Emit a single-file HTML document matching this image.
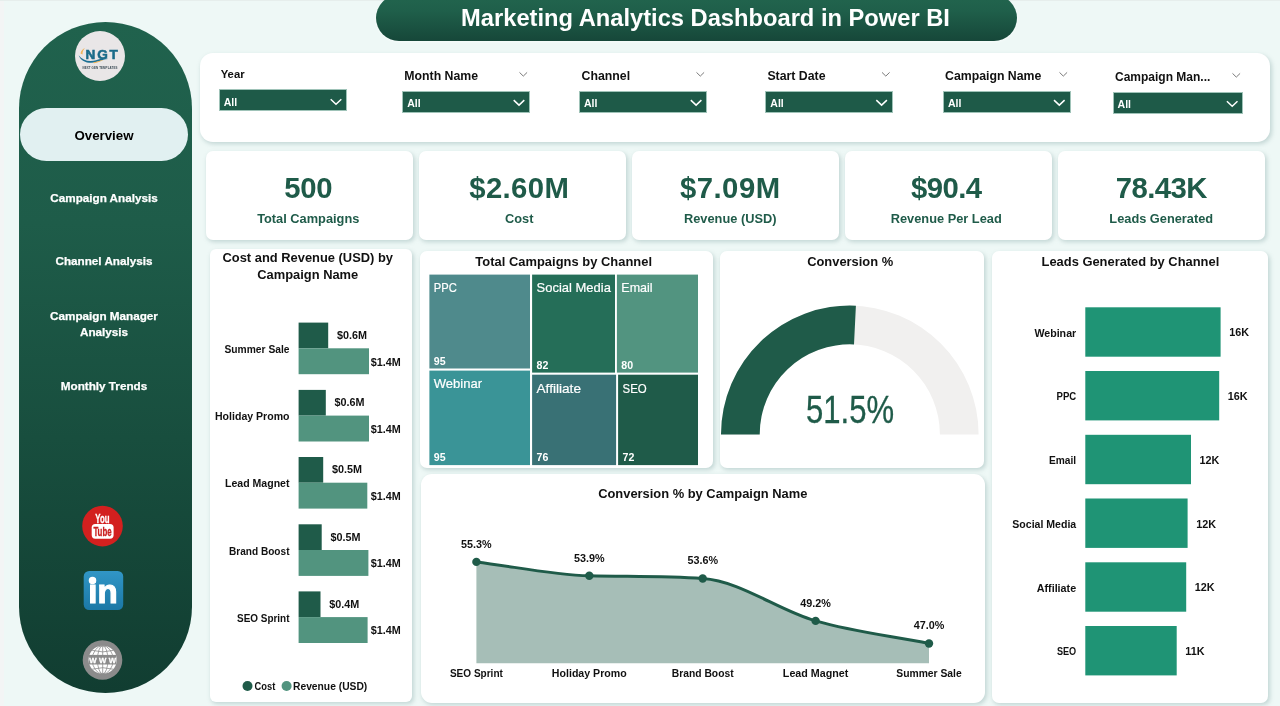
<!DOCTYPE html>
<html lang="en"><head><meta charset="utf-8"><title>Marketing Analytics Dashboard in Power BI</title>
<style>
*{box-sizing:border-box;margin:0;padding:0}
html,body{width:1280px;height:706px;overflow:hidden}
body{background:#eef8f6;font-family:"Liberation Sans",Arial,sans-serif;color:#111;position:relative}
.abs{position:absolute}
.card{position:absolute;background:#fff;border-radius:7px;box-shadow:1.5px 2px 4px rgba(120,155,155,.36)}
.edge{position:absolute;left:0;top:0;width:4px;height:706px;background:#f3f5f5}
.side{position:absolute;left:19px;top:22px;width:173px;height:671px;border-radius:86.5px;background:linear-gradient(180deg,#20624d 0%,#1e5c49 30%,#184e3e 62%,#113d31 100%)}
.title{position:absolute;left:376px;top:-5px;width:641px;height:46px;border-radius:23px;background:linear-gradient(180deg,#22654e 0%,#1f5f4a 35%,#164739 100%);box-shadow:0 1px 3px rgba(255,255,255,.6);color:#fff;font-weight:700;font-size:23.7px;text-align:center;line-height:47px;padding-left:18px;white-space:nowrap}
.pill{position:absolute;left:20px;top:108px;width:168px;height:53px;border-radius:26.5px;background:#e1f0f1;font-weight:700;font-size:13.3px;text-align:center;line-height:55.5px;color:#000}
.nav{position:absolute;left:18px;width:172px;text-align:center;color:#fff;font-weight:700;font-size:11.7px;line-height:15.5px;white-space:nowrap;-webkit-text-stroke:0.25px #fff}
.flabel{position:absolute;font-weight:700;font-size:12.4px;line-height:14px;white-space:nowrap;color:#111}
.dd{position:absolute;height:21.9px;overflow:hidden;background:#1e5a48;border:1px solid #9fc3b8;color:#fff;font-weight:700;font-size:10.5px;line-height:23.5px;padding-left:4px}
.kpi{position:absolute;top:150.5px;width:206.5px;height:89.5px;border-radius:7px}
.kv{position:absolute;left:0;right:0;top:20.6px;text-align:center;font-weight:700;font-size:29.3px;line-height:34px;color:#1f5b49;white-space:nowrap}
.kl{position:absolute;left:0;right:0;top:59px;text-align:center;font-weight:700;font-size:12.8px;line-height:17px;color:#1f5b49;white-space:nowrap}
.ct{position:absolute;left:0;right:0;text-align:center;font-weight:700;font-size:12.9px;line-height:17.3px;color:#111;white-space:nowrap}
svg{position:absolute;left:0;top:0;overflow:visible}
svg text{font-family:"Liberation Sans",Arial,sans-serif}
</style></head>
<body>
<div class="edge"></div><div class="abs" style="left:0;top:0;width:1280px;height:1px;background:#e6eeec"></div>
<div class="title">Marketing Analytics Dashboard in Power BI</div>
<div class="side"></div>
<svg width="1280" height="706" viewBox="0 0 1280 706" style="pointer-events:none">
<circle cx="100" cy="56" r="25" fill="#e9e6e7"/>
<path d="M78.6 55.2 C81.5 62.6 90 64.4 98 61.6 C102 60.2 105 58.8 108.3 58.9 C104 57.4 100 59 96 60.2 C89 62.2 82.5 60.4 78.6 55.2Z" fill="#1b6f93"/>
<path d="M80.5 53.5 C81 50.5 83 48.8 85 48.3 C83.2 50 82.3 52 82.6 54.6Z" fill="#f0b45a"/>
<path d="M93 62.6 C97 61.6 101 60.2 103.5 60 C100.5 61.4 97 62.6 94 63.2Z" fill="#f0b45a"/>
<text x="102.6" y="58.9" text-anchor="middle" font-size="13.6" font-weight="700" fill="#1a6b89" stroke="#1a6b89" stroke-width="0.55" letter-spacing="1.75">NGT</text>
<text x="100" y="68.7" text-anchor="middle" font-size="2.9" font-weight="700" fill="#3a4a55" letter-spacing="0.12">NEXT GEN TEMPLATES</text>
</svg>
<div class="pill">Overview</div>
<div class="nav" style="top:190px">Campaign Analysis</div>
<div class="nav" style="top:253.2px">Channel Analysis</div>
<div class="nav" style="top:308.3px">Campaign Manager<br>Analysis</div>
<div class="nav" style="top:378px">Monthly Trends</div>
<svg width="1280" height="706" viewBox="0 0 1280 706">
<!-- youtube -->
<circle cx="102.5" cy="526.1" r="20.3" fill="#d3201f"/>
<text x="102.4" y="522.9" text-anchor="middle" font-size="12.4" font-weight="700" fill="#fff" stroke="#fff" stroke-width="0.3" textLength="14.2" lengthAdjust="spacingAndGlyphs">You</text>
<rect x="91.7" y="523.9" width="21.9" height="14.8" rx="3.6" fill="#fff"/>
<text x="102.5" y="535.8" text-anchor="middle" font-size="12.8" font-weight="700" fill="#c91f1e" stroke="#c91f1e" stroke-width="0.35" textLength="18.2" lengthAdjust="spacingAndGlyphs">Tube</text>
<!-- linkedin -->
<defs><linearGradient id="lig" x1="0" y1="0" x2="0" y2="1"><stop offset="0" stop-color="#3196c6"/><stop offset="1" stop-color="#1b78a6"/></linearGradient></defs>
<rect x="83.7" y="570.9" width="39.5" height="39.2" rx="5.5" fill="url(#lig)"/>
<text y="603.3" font-size="33" font-weight="700" fill="#fff" stroke="#fff" stroke-width="1.1"><tspan x="88.3">i</tspan><tspan x="97.6">n</tspan></text>
<circle cx="92.5" cy="580.4" r="3.75" fill="#fff"/>
<!-- globe -->
<circle cx="102.5" cy="660" r="19.8" fill="#8b8b8b"/>
<circle cx="102.7" cy="659.8" r="14.1" fill="#fff"/>
<g fill="none" stroke="#8b8b8b" stroke-width="0.8">
<ellipse cx="102.7" cy="659.8" rx="5.2" ry="14.1"/>
<ellipse cx="102.7" cy="659.8" rx="10.4" ry="14.1"/>
<line x1="102.7" y1="645.7" x2="102.7" y2="673.9"/>
<path d="M92.2 650.4 Q102.7 653.4 113.2 650.4"/>
<path d="M92.2 669.2 Q102.7 666.2 113.2 669.2"/>
</g>
<rect x="89" y="654.9" width="27.4" height="9.6" fill="#8b8b8b"/>
<text x="102.7" y="662.6" text-anchor="middle" font-size="7.8" font-weight="700" fill="#fff" stroke="#fff" stroke-width="0.3" textLength="27" lengthAdjust="spacing">WWW</text>
</svg>
<div class="card" style="left:199.5px;top:52.5px;width:1070px;height:89px;border-radius:13px"></div>
<div class="flabel" style="left:220.7px;top:67.2px;font-size:11.3px">Year</div>
<div class="dd" style="left:218.7px;top:89.3px;width:128.5px;line-height:24.6px">All</div>
<div class="flabel" style="left:404.3px;top:69.2px;font-size:12.3px">Month Name</div>
<div class="dd" style="left:402.2px;top:90.7px;width:128px;line-height:23.4px">All</div>
<div class="flabel" style="left:581.6px;top:69.2px;font-size:12.3px">Channel</div>
<div class="dd" style="left:579px;top:90.7px;width:128.3px;line-height:23.4px">All</div>
<div class="flabel" style="left:767.4px;top:69.2px;font-size:12.3px">Start Date</div>
<div class="dd" style="left:765.3px;top:90.7px;width:127.5px;line-height:23.4px">All</div>
<div class="flabel" style="left:945px;top:69.2px;font-size:12.3px">Campaign Name</div>
<div class="dd" style="left:943px;top:90.7px;width:127.5px;line-height:23.4px">All</div>
<div class="flabel" style="left:1115px;top:70.2px;font-size:12.0px">Campaign Man...</div>
<div class="dd" style="left:1112.6px;top:91.9px;width:130.8px;line-height:23.4px">All</div>
<svg width="1280" height="706" viewBox="0 0 1280 706"><path d="M330.7 99.3 l5.3 5 l5.3 -5" fill="none" stroke="#fff" stroke-width="1.5"/><path d="M513.7 100.1 l5.3 5 l5.3 -5" fill="none" stroke="#fff" stroke-width="1.5"/><path d="M519.5 72.4 l3.8 3.7 l3.8 -3.7" fill="none" stroke="#7a7a7a" stroke-width="1"/><path d="M690.8 100.1 l5.3 5 l5.3 -5" fill="none" stroke="#fff" stroke-width="1.5"/><path d="M696.5 72.4 l3.8 3.7 l3.8 -3.7" fill="none" stroke="#7a7a7a" stroke-width="1"/><path d="M876.3 100.1 l5.3 5 l5.3 -5" fill="none" stroke="#fff" stroke-width="1.5"/><path d="M882.0 72.4 l3.8 3.7 l3.8 -3.7" fill="none" stroke="#7a7a7a" stroke-width="1"/><path d="M1054.0 100.1 l5.3 5 l5.3 -5" fill="none" stroke="#fff" stroke-width="1.5"/><path d="M1059.5 72.4 l3.8 3.7 l3.8 -3.7" fill="none" stroke="#7a7a7a" stroke-width="1"/><path d="M1226.9 101.3 l5.3 5 l5.3 -5" fill="none" stroke="#fff" stroke-width="1.5"/><path d="M1232.5 73.4 l3.8 3.7 l3.8 -3.7" fill="none" stroke="#7a7a7a" stroke-width="1"/></svg>
<div class="card kpi" style="left:206px"><div class="kv" style="left:-2px;letter-spacing:-0.3px">500</div><div class="kl" style="left:-2px">Total Campaigns</div></div>
<div class="card kpi" style="left:419px"><div class="kv" style="left:-6px;letter-spacing:0.4px">$2.60M</div><div class="kl" style="left:-6px">Cost</div></div>
<div class="card kpi" style="left:632px"><div class="kv" style="left:-10px;letter-spacing:0.5px">$7.09M</div><div class="kl" style="left:-10px">Revenue (USD)</div></div>
<div class="card kpi" style="left:845px"><div class="kv" style="left:-4px;letter-spacing:-0.6px">$90.4</div><div class="kl" style="left:-4px">Revenue Per Lead</div></div>
<div class="card kpi" style="left:1058px"><div class="kv" style="left:0px;letter-spacing:-0.6px">78.43K</div><div class="kl" style="left:0px">Leads Generated</div></div>
<div class="card" style="left:209.5px;top:248.5px;width:202.5px;height:453.6px;border-radius:6px"><div class="ct" style="top:0.5px;left:-6px">Cost and Revenue (USD) by<br>Campaign Name</div></div>
<svg width="1280" height="706" viewBox="0 0 1280 706"><rect x="298.6" y="322.6" width="29.6" height="25.7" fill="#1f5b49"/><rect x="298.6" y="348.3" width="70.4" height="25.9" fill="#52947f"/><text x="289.5" y="352.8" text-anchor="end" font-size="10.4" font-weight="700" fill="#111" textLength="65" lengthAdjust="spacingAndGlyphs">Summer Sale</text><text x="337.0" y="339.0" font-size="10.8" font-weight="700" fill="#111">$0.6M</text><text x="370.7" y="365.6" font-size="10.8" font-weight="700" fill="#111">$1.4M</text><rect x="298.6" y="389.9" width="27.2" height="25.7" fill="#1f5b49"/><rect x="298.6" y="415.6" width="70.4" height="25.9" fill="#52947f"/><text x="289.5" y="420.1" text-anchor="end" font-size="10.4" font-weight="700" fill="#111" textLength="74.5" lengthAdjust="spacingAndGlyphs">Holiday Promo</text><text x="334.6" y="406.3" font-size="10.8" font-weight="700" fill="#111">$0.6M</text><text x="370.7" y="432.9" font-size="10.8" font-weight="700" fill="#111">$1.4M</text><rect x="298.6" y="457.0" width="24.6" height="25.7" fill="#1f5b49"/><rect x="298.6" y="482.7" width="68.7" height="25.9" fill="#52947f"/><text x="289.5" y="487.2" text-anchor="end" font-size="10.4" font-weight="700" fill="#111" textLength="64.5" lengthAdjust="spacingAndGlyphs">Lead Magnet</text><text x="332.0" y="473.4" font-size="10.8" font-weight="700" fill="#111">$0.5M</text><text x="370.7" y="500.0" font-size="10.8" font-weight="700" fill="#111">$1.4M</text><rect x="298.6" y="524.3" width="23.1" height="25.7" fill="#1f5b49"/><rect x="298.6" y="550.0" width="69.8" height="25.9" fill="#52947f"/><text x="289.5" y="554.5" text-anchor="end" font-size="10.4" font-weight="700" fill="#111" textLength="60.5" lengthAdjust="spacingAndGlyphs">Brand Boost</text><text x="330.5" y="540.7" font-size="10.8" font-weight="700" fill="#111">$0.5M</text><text x="370.7" y="567.3" font-size="10.8" font-weight="700" fill="#111">$1.4M</text><rect x="298.6" y="591.4" width="21.9" height="25.7" fill="#1f5b49"/><rect x="298.6" y="617.1" width="69.0" height="25.9" fill="#52947f"/><text x="289.5" y="621.6" text-anchor="end" font-size="10.4" font-weight="700" fill="#111" textLength="52.5" lengthAdjust="spacingAndGlyphs">SEO Sprint</text><text x="329.3" y="607.8" font-size="10.8" font-weight="700" fill="#111">$0.4M</text><text x="370.7" y="634.4" font-size="10.8" font-weight="700" fill="#111">$1.4M</text><circle cx="247.5" cy="686" r="5" fill="#1f5b49"/><text x="254.6" y="689.8" font-size="10.5" font-weight="700" fill="#111" textLength="20.8" lengthAdjust="spacingAndGlyphs">Cost</text><circle cx="286.6" cy="686" r="5" fill="#52947f"/><text x="293" y="689.8" font-size="10.5" font-weight="700" fill="#111" textLength="74.3" lengthAdjust="spacingAndGlyphs">Revenue (USD)</text></svg>
<div class="card" style="left:420.3px;top:251px;width:292.3px;height:216.5px"><div class="ct" style="top:1.5px;left:-5.5px;letter-spacing:0.03px">Total Campaigns by Channel</div></div>
<svg width="1280" height="706" viewBox="0 0 1280 706"><rect x="429.4" y="274.6" width="100.6" height="93.9" fill="#4f8a8c"/><text x="433.8" y="292.4" font-size="13.2" fill="#fff" stroke="#fff" stroke-width="0.2" textLength="23" lengthAdjust="spacingAndGlyphs">PPC</text><text x="433.8" y="364.5" font-size="10.6" font-weight="700" fill="#fff">95</text><rect x="429.4" y="370.6" width="100.6" height="94.5" fill="#3a9497"/><text x="433.8" y="388.4" font-size="13.2" fill="#fff" stroke="#fff" stroke-width="0.2" textLength="48.3" lengthAdjust="spacingAndGlyphs">Webinar</text><text x="433.8" y="461.1" font-size="10.6" font-weight="700" fill="#fff">95</text><rect x="532.1" y="274.6" width="82.9" height="98.0" fill="#256e58"/><text x="536.5" y="292.4" font-size="13.2" fill="#fff" stroke="#fff" stroke-width="0.2" textLength="74.4" lengthAdjust="spacingAndGlyphs">Social Media</text><text x="536.5" y="368.6" font-size="10.6" font-weight="700" fill="#fff">82</text><rect x="616.9" y="274.6" width="81.1" height="98.0" fill="#529480"/><text x="621.3" y="292.4" font-size="13.2" fill="#fff" stroke="#fff" stroke-width="0.2" textLength="31.3" lengthAdjust="spacingAndGlyphs">Email</text><text x="621.3" y="368.6" font-size="10.6" font-weight="700" fill="#fff">80</text><rect x="532.1" y="374.7" width="84.0" height="90.4" fill="#397175"/><text x="536.5" y="392.5" font-size="13.2" fill="#fff" stroke="#fff" stroke-width="0.2" textLength="44.5" lengthAdjust="spacingAndGlyphs">Affiliate</text><text x="536.5" y="461.1" font-size="10.6" font-weight="700" fill="#fff">76</text><rect x="618.1" y="374.7" width="79.9" height="90.4" fill="#1f5b49"/><text x="622.5" y="392.5" font-size="13.2" fill="#fff" stroke="#fff" stroke-width="0.2" textLength="24.2" lengthAdjust="spacingAndGlyphs">SEO</text><text x="622.5" y="461.1" font-size="10.6" font-weight="700" fill="#fff">72</text></svg>
<div class="card" style="left:720.3px;top:251px;width:263.7px;height:216.5px"><div class="ct" style="top:1.5px;left:-4px">Conversion %</div></div>
<svg width="1280" height="706" viewBox="0 0 1280 706"><path d="M721.0 434.4 A128.8 128.8 0 0 1 978.6 434.4 L939.9 434.4 A90.1 90.1 0 0 0 759.7 434.4Z" fill="#f1f0ef"/><path d="M721.0 434.4 A128.8 128.8 0 0 1 855.9 305.7 L854.0 344.4 A90.1 90.1 0 0 0 759.7 434.4Z" fill="#1f5b49"/><text x="806" y="422.9" font-size="39" stroke="#1f5b49" stroke-width="0.35" fill="#1f5b49" textLength="88" lengthAdjust="spacingAndGlyphs">51.5%</text></svg>
<div class="card" style="left:421px;top:474px;width:563.5px;height:228.6px;border-radius:11px"><div class="ct" style="top:11.3px;left:0px">Conversion % by Campaign Name</div></div>
<svg width="1280" height="706" viewBox="0 0 1280 706"><path d="M476.4 561.9 C514.0 566.5 551.7 574.9 589.3 575.8 C627.1 576.7 664.9 576.0 702.7 578.5 C740.3 581.0 778.0 610.1 815.6 620.9 C853.4 631.8 891.2 636.0 929.0 643.5 L929.0 663.3 L476.4 663.3Z" fill="#a6beb7"/><path d="M476.4 561.9 C514.0 566.5 551.7 574.9 589.3 575.8 C627.1 576.7 664.9 576.0 702.7 578.5 C740.3 581.0 778.0 610.1 815.6 620.9 C853.4 631.8 891.2 636.0 929.0 643.5" fill="none" stroke="#1f5b49" stroke-width="3" stroke-linecap="round"/><circle cx="476.4" cy="561.9" r="4.2" fill="#1f5b49"/><text x="476.4" y="547.7" text-anchor="middle" font-size="10.8" font-weight="700" fill="#111">55.3%</text><text x="476.4" y="677.2" text-anchor="middle" font-size="10.5" font-weight="700" fill="#111" textLength="53" lengthAdjust="spacingAndGlyphs">SEO Sprint</text><circle cx="589.3" cy="575.8" r="4.2" fill="#1f5b49"/><text x="589.3" y="561.6" text-anchor="middle" font-size="10.8" font-weight="700" fill="#111">53.9%</text><text x="589.3" y="677.2" text-anchor="middle" font-size="10.5" font-weight="700" fill="#111" textLength="74.9" lengthAdjust="spacingAndGlyphs">Holiday Promo</text><circle cx="702.7" cy="578.5" r="4.2" fill="#1f5b49"/><text x="702.7" y="564.3" text-anchor="middle" font-size="10.8" font-weight="700" fill="#111">53.6%</text><text x="702.7" y="677.2" text-anchor="middle" font-size="10.5" font-weight="700" fill="#111" textLength="61.8" lengthAdjust="spacingAndGlyphs">Brand Boost</text><circle cx="815.6" cy="620.9" r="4.2" fill="#1f5b49"/><text x="815.6" y="606.7" text-anchor="middle" font-size="10.8" font-weight="700" fill="#111">49.2%</text><text x="815.6" y="677.2" text-anchor="middle" font-size="10.5" font-weight="700" fill="#111" textLength="65.5" lengthAdjust="spacingAndGlyphs">Lead Magnet</text><circle cx="929.0" cy="643.5" r="4.2" fill="#1f5b49"/><text x="929.0" y="629.3" text-anchor="middle" font-size="10.8" font-weight="700" fill="#111">47.0%</text><text x="929.0" y="677.2" text-anchor="middle" font-size="10.5" font-weight="700" fill="#111" textLength="65.5" lengthAdjust="spacingAndGlyphs">Summer Sale</text></svg>
<div class="card" style="left:991.8px;top:251px;width:276px;height:451.8px"><div class="ct" style="top:1.5px;left:1.2px">Leads Generated by Channel</div></div>
<svg width="1280" height="706" viewBox="0 0 1280 706"><rect x="1085.3" y="307.3" width="135.3" height="49.4" fill="#1f9475"/><text x="1076.2" y="336.5" text-anchor="end" font-size="10.5" font-weight="700" fill="#111" textLength="41.8" lengthAdjust="spacingAndGlyphs">Webinar</text><text x="1229.2" y="336.4" font-size="10.8" font-weight="700" fill="#111">16K</text><rect x="1085.3" y="371.0" width="133.9" height="49.4" fill="#1f9475"/><text x="1076.2" y="400.2" text-anchor="end" font-size="10.5" font-weight="700" fill="#111" textLength="19.7" lengthAdjust="spacingAndGlyphs">PPC</text><text x="1227.8" y="400.1" font-size="10.8" font-weight="700" fill="#111">16K</text><rect x="1085.3" y="434.8" width="105.7" height="49.4" fill="#1f9475"/><text x="1076.2" y="464.0" text-anchor="end" font-size="10.5" font-weight="700" fill="#111" textLength="27.2" lengthAdjust="spacingAndGlyphs">Email</text><text x="1199.6" y="463.9" font-size="10.8" font-weight="700" fill="#111">12K</text><rect x="1085.3" y="498.5" width="102.3" height="49.4" fill="#1f9475"/><text x="1076.2" y="527.7" text-anchor="end" font-size="10.5" font-weight="700" fill="#111" textLength="63.9" lengthAdjust="spacingAndGlyphs">Social Media</text><text x="1196.2" y="527.6" font-size="10.8" font-weight="700" fill="#111">12K</text><rect x="1085.3" y="562.3" width="100.9" height="49.4" fill="#1f9475"/><text x="1076.2" y="591.5" text-anchor="end" font-size="10.5" font-weight="700" fill="#111" textLength="39.5" lengthAdjust="spacingAndGlyphs">Affiliate</text><text x="1194.8" y="591.4" font-size="10.8" font-weight="700" fill="#111">12K</text><rect x="1085.3" y="626.0" width="91.4" height="49.4" fill="#1f9475"/><text x="1076.2" y="655.2" text-anchor="end" font-size="10.5" font-weight="700" fill="#111" textLength="19.3" lengthAdjust="spacingAndGlyphs">SEO</text><text x="1185.3" y="655.1" font-size="10.8" font-weight="700" fill="#111">11K</text></svg>
</body></html>
